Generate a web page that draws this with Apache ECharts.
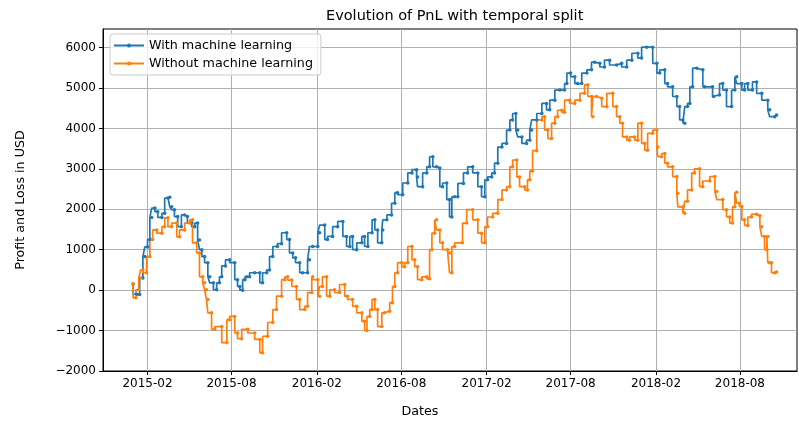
<!DOCTYPE html>
<html>
<head>
<meta charset="utf-8">
<script src="https://cdn.jsdelivr.net/npm/echarts@6/dist/echarts.min.js"></script>
<style>html,body{margin:0;padding:0;background:#fff;}#chart{width:799px;height:421px;}</style>
</head>
<body>
<div id="chart"></div>
<script>
const blueDates = ['2015-01-01','2015-01-09','2015-01-15','2015-01-22','2015-01-26','2015-02-01','2015-02-06','2015-02-10','2015-02-17','2015-02-23','2015-03-04','2015-03-10','2015-03-17','2015-03-21','2015-03-25','2015-03-31','2015-04-07','2015-04-15','2015-04-22','2015-04-28','2015-05-07','2015-05-14','2015-05-20','2015-05-24','2015-05-29','2015-06-04','2015-06-11','2015-06-15','2015-06-23','2015-06-30','2015-07-06','2015-07-11','2015-07-19','2015-07-28','2015-08-08','2015-08-14','2015-08-19','2015-08-25','2015-08-30','2015-09-03','2015-09-09','2015-09-20','2015-10-01','2015-10-07','2015-10-16','2015-10-22','2015-10-29','2015-11-08','2015-11-17','2015-11-28','2015-12-04','2015-12-11','2015-12-17','2015-12-26','2016-01-01','2016-01-12','2016-01-16','2016-01-23','2016-02-03','2016-02-07','2016-02-18','2016-02-24','2016-03-06','2016-03-17','2016-03-28','2016-04-05','2016-04-12','2016-04-18','2016-04-27','2016-05-08','2016-05-14','2016-05-21','2016-05-30','2016-06-05','2016-06-11','2016-06-20','2016-06-22','2016-07-01','2016-07-11','2016-07-18','2016-07-24','2016-08-04','2016-08-15','2016-08-24','2016-09-03','2016-09-05','2016-09-16','2016-09-25','2016-10-01','2016-10-08','2016-10-16','2016-10-23','2016-10-29','2016-11-07','2016-11-13','2016-11-18','2016-11-24','2016-12-01','2016-12-13','2016-12-22','2017-01-02','2017-01-13','2017-01-21','2017-01-28','2017-02-03','2017-02-12','2017-02-18','2017-02-25','2017-03-06','2017-03-16','2017-03-23','2017-03-29','2017-04-05','2017-04-09','2017-04-18','2017-04-28','2017-05-05','2017-05-09','2017-05-20','2017-05-31','2017-06-10','2017-06-17','2017-06-28','2017-07-09','2017-07-19','2017-07-24','2017-08-01','2017-08-10','2017-08-16','2017-08-25','2017-09-05','2017-09-15','2017-09-22','2017-10-03','2017-10-13','2017-10-24','2017-11-08','2017-11-19','2017-11-30','2017-12-11','2017-12-24','2018-01-01','2018-01-12','2018-01-25','2018-02-03','2018-02-09','2018-02-20','2018-02-26','2018-03-09','2018-03-18','2018-03-24','2018-03-31','2018-04-04','2018-04-10','2018-04-15','2018-04-21','2018-04-30','2018-05-13','2018-05-17','2018-06-03','2018-06-05','2018-06-18','2018-06-25','2018-07-03','2018-07-14','2018-07-21','2018-07-25','2018-08-05','2018-08-11','2018-08-18','2018-08-28','2018-09-06','2018-09-17','2018-09-30','2018-10-04','2018-10-15','2018-10-19'];
const blueValues = [150,-100,-110,300,830,1070,1250,1800,2030,1940,1800,1900,2280,2300,2060,1990,1820,1570,1860,1820,1660,1570,1660,1240,1000,830,680,330,180,10,180,330,600,750,680,260,90,0,260,330,330,430,430,180,430,500,830,1080,1150,1420,1250,920,800,680,430,430,750,1080,1080,1420,1610,1250,1330,1570,1700,1330,1080,1330,1000,1170,1330,1080,1420,1740,1490,1170,1490,1740,1860,2150,2410,2360,2650,2900,2980,2800,2560,2900,3050,3300,3050,3020,2560,2650,2240,1810,2310,2310,2640,2900,3050,2900,2560,2310,2730,2800,2900,3140,3540,3630,3960,4210,4370,3960,3790,3630,3710,3960,4210,4370,4620,4460,4700,4950,4950,5110,5370,5280,5110,5110,5370,5450,5640,5610,5520,5690,5570,5610,5520,5690,5860,5740,6010,6010,5610,5370,5450,5110,5030,4790,4540,4210,4130,4540,4620,5030,5490,5450,5030,5030,4790,4830,5110,4950,4540,4950,5280,5110,4950,5110,4950,5150,4870,4700,4460,4290,4330];

const orangeDates = ['2015-01-01','2015-01-07','2015-01-13','2015-01-17','2015-01-22','2015-01-30','2015-02-06','2015-02-12','2015-02-21','2015-03-04','2015-03-10','2015-03-17','2015-03-25','2015-04-05','2015-04-11','2015-04-22','2015-05-03','2015-05-09','2015-05-18','2015-05-24','2015-05-31','2015-06-04','2015-06-08','2015-06-11','2015-06-19','2015-06-26','2015-07-11','2015-07-22','2015-07-28','2015-08-08','2015-08-14','2015-08-23','2015-09-05','2015-09-20','2015-10-01','2015-10-07','2015-10-18','2015-10-29','2015-11-06','2015-11-17','2015-11-24','2015-11-30','2015-12-09','2015-12-19','2015-12-26','2016-01-06','2016-01-12','2016-01-21','2016-01-23','2016-02-03','2016-02-07','2016-02-13','2016-02-22','2016-02-29','2016-03-10','2016-03-21','2016-04-01','2016-04-07','2016-04-18','2016-04-27','2016-05-08','2016-05-14','2016-05-19','2016-05-25','2016-05-30','2016-06-05','2016-06-11','2016-06-20','2016-06-26','2016-07-07','2016-07-13','2016-07-18','2016-07-24','2016-08-02','2016-08-08','2016-08-15','2016-08-24','2016-08-30','2016-09-05','2016-09-14','2016-09-25','2016-10-01','2016-10-06','2016-10-12','2016-10-16','2016-10-23','2016-10-29','2016-11-09','2016-11-13','2016-11-18','2016-11-24','2016-12-11','2016-12-20','2017-01-02','2017-01-13','2017-01-21','2017-01-28','2017-02-03','2017-02-14','2017-02-25','2017-03-06','2017-03-16','2017-03-23','2017-03-29','2017-04-07','2017-04-13','2017-04-24','2017-04-30','2017-05-05','2017-05-11','2017-05-20','2017-05-31','2017-06-06','2017-06-13','2017-06-21','2017-06-28','2017-07-04','2017-07-13','2017-07-19','2017-07-30','2017-08-10','2017-08-21','2017-08-31','2017-09-07','2017-09-15','2017-09-18','2017-09-26','2017-10-07','2017-10-18','2017-10-31','2017-11-08','2017-11-15','2017-11-21','2017-11-30','2017-12-06','2017-12-17','2017-12-24','2018-01-01','2018-01-08','2018-01-14','2018-01-25','2018-02-03','2018-02-05','2018-02-13','2018-02-20','2018-02-26','2018-03-09','2018-03-18','2018-03-20','2018-03-31','2018-04-04','2018-04-10','2018-04-19','2018-04-25','2018-05-06','2018-05-13','2018-05-28','2018-06-08','2018-06-12','2018-06-25','2018-07-03','2018-07-10','2018-07-16','2018-07-21','2018-07-25','2018-07-31','2018-08-05','2018-08-11','2018-08-18','2018-08-26','2018-09-06','2018-09-13','2018-09-17','2018-09-23','2018-09-28','2018-09-30','2018-10-04','2018-10-08','2018-10-15','2018-10-19'];
const orangeValues = [160,-190,10,300,500,430,830,1250,1490,1410,1570,1790,1570,1660,1320,1490,1660,1740,1170,920,330,180,10,-230,-560,-970,-900,-1300,-730,-650,-1060,-1200,-970,-1060,-1220,-1550,-1140,-800,-480,-150,260,330,250,90,-230,-480,-400,-60,330,260,-150,90,330,-150,10,-60,140,-150,-230,-400,-560,-770,-1000,-650,-480,-230,-480,-900,-560,-520,-310,90,430,680,580,680,1080,750,580,260,330,280,1000,1410,1740,1490,1170,1000,920,430,1080,1170,1660,1990,1740,1410,1170,1570,1810,1900,2240,2480,2560,3050,3220,2800,2560,2480,2730,2950,3450,4210,4290,3960,3750,4130,4290,4450,4400,4700,4620,4700,4870,5080,4790,4290,4790,4750,4540,4870,4540,4290,4130,3790,3710,3790,3710,4130,3630,3460,3880,3960,3540,3300,3380,3140,3050,2810,2400,2060,1900,2200,2480,2900,3000,2560,2700,2810,2440,2240,1990,1810,1660,2060,2420,2150,2070,1740,1600,1810,1880,1840,1570,1330,1000,1330,680,680,430,450];

const tickDates = ['2015-02-01','2015-08-01','2016-02-01','2016-08-01','2017-02-01','2017-08-01','2018-02-01','2018-08-01'];
const yTicks = [-2000,-1000,0,1000,2000,3000,4000,5000,6000];
const xRange = ['2014-10-28', '2018-12-02'];

const FONT = 'DejaVu Sans';
const chart = echarts.init(document.getElementById('chart'), null, {renderer: 'canvas'});
const parseT = s => echarts.number.parseDate(s).getTime();
const xTickValues = tickDates.map(parseT);

function mk(name, dates, vals, color) {
  return {
    name: name, type: 'line', step: 'start',
    data: dates.map((d, i) => [parseT(d), vals[i]]),
    symbol: 'circle', symbolSize: 3.5, showAllSymbol: true,
    lineStyle: {color: color, width: 1.7},
    itemStyle: {color: color},
    animation: false
  };
}

chart.setOption({
  animation: false,
  title: {
    text: 'Evolution of PnL with temporal split',
    left: 321, top: 4,
    textStyle: {fontFamily: FONT, fontSize: 14.5, fontWeight: 'normal', color: '#000'}
  },
  legend: {
    orient: 'vertical', left: 110, top: 34,
    itemWidth: 30, itemHeight: 5, itemGap: 5,
    padding: [5, 8, 5, 3],
    borderColor: '#ccc', borderWidth: 1, borderRadius: 3,
    backgroundColor: 'rgba(255,255,255,0.8)',
    textStyle: {fontFamily: FONT, fontSize: 12.7, color: '#000'},
    data: ['With machine learning', 'Without machine learning']
  },
  grid: {left: 103, right: 2, top: 29, bottom: 50, show: true, borderColor: '#000', borderWidth: 1, containLabel: false, outerBoundsMode: 'none'},
  xAxis: {
    type: 'value',
    min: parseT(xRange[0]), max: parseT(xRange[1]),
    name: 'Dates', nameLocation: 'middle', nameGap: 34,
    nameTextStyle: {fontFamily: FONT, fontSize: 12.7, color: '#000', padding: [0, 60, 0, 0]},
    axisLine: {show: true, onZero: false, lineStyle: {color: '#000', width: 1}},
    axisTick: {show: true, length: 4, lineStyle: {color: '#000'}, customValues: xTickValues},
    axisLabel: {
      fontFamily: FONT, fontSize: 12, color: '#000', margin: 7,
      customValues: xTickValues,
      formatter: v => echarts.time.format(v, '{yyyy}-{MM}', false)
    },
    splitLine: {show: true, lineStyle: {color: '#b0b0b0', width: 1}}
  },
  yAxis: {
    type: 'value', min: -2000, max: 6460,
    name: 'Profit and Loss in USD', nameLocation: 'middle', nameGap: 76,
    nameTextStyle: {fontFamily: FONT, fontSize: 12.7, color: '#000'},
    axisLine: {show: true, lineStyle: {color: '#000', width: 1}},
    axisTick: {show: true, length: 4, lineStyle: {color: '#000'}, customValues: yTicks},
    axisLabel: {
      fontFamily: FONT, fontSize: 12, color: '#000', margin: 7,
      customValues: yTicks,
      formatter: v => (v < 0 ? '\u2212' + Math.abs(v) : String(v))
    },
    splitLine: {show: true, lineStyle: {color: '#b0b0b0', width: 1}}
  },
  series: [
    mk('With machine learning', blueDates, blueValues, '#1f77b4'),
    mk('Without machine learning', orangeDates, orangeValues, '#ff7f0e')
  ]
});
</script>
</body>
</html>
